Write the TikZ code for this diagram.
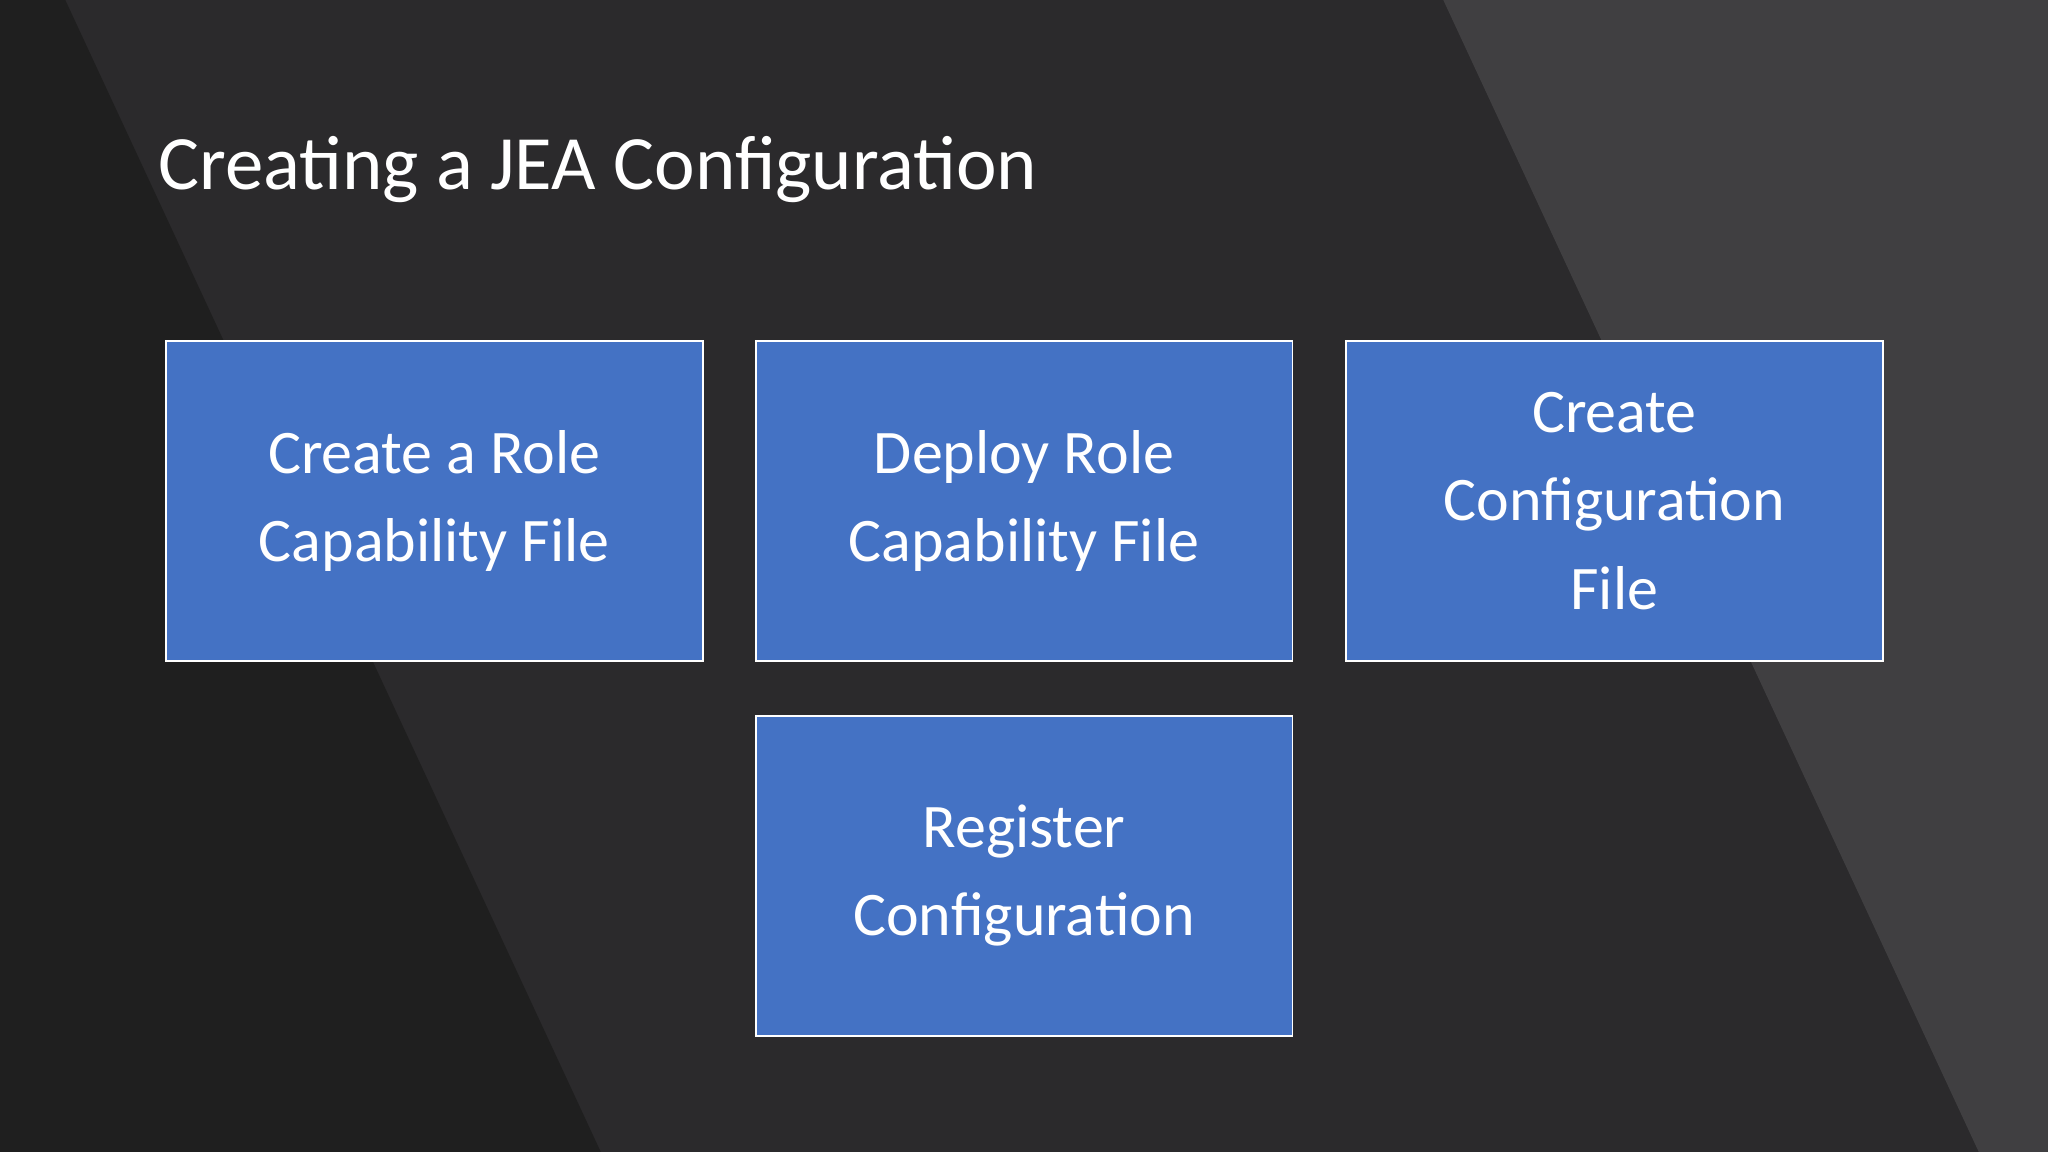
\documentclass[tikz,border=0pt]{standalone}
\usepackage{fontspec}
\setmainfont{Carlito}
\definecolor{bgmid}{HTML}{2B2A2C}
\definecolor{bgdark}{HTML}{1F1F1F}
\definecolor{bglight}{HTML}{403F41}
\definecolor{boxblue}{HTML}{4472C4}
\begin{document}
\begin{tikzpicture}[x=0.02cm,y=-0.02cm,
  stepbox/.style={draw=white,line width=0.8pt,fill=boxblue,minimum width=411*0.02cm,minimum height=245*0.02cm,
    text=white,align=center,font=\fontsize{27}{38.5}\selectfont,inner sep=0pt}]
\fill[bgmid] (0,0) rectangle (1568,882);
\fill[bgdark] (0,0) -- (50,0) -- (460,882) -- (0,882) -- cycle;
\fill[bglight] (1105,0) -- (1568,0) -- (1568,882) -- (1515,882) -- cycle;
\useasboundingbox (0,0) rectangle (1568,882);
\node[anchor=west,text=white,font=\fontsize{33.5}{40}\selectfont] (title) at (115,130) {Creating a JEA Configuration};
\node[stepbox] (a) at (332.5,383.5) {Create a Role\\Capability File};
\node[stepbox] (b) at (784,383.5) {Deploy Role\\Capability File};
\node[stepbox] (c) at (1236,383.5) {Create\\Configuration\\File};
\node[stepbox] (d) at (784,670.5) {Register\\Configuration};
\end{tikzpicture}
\end{document}
